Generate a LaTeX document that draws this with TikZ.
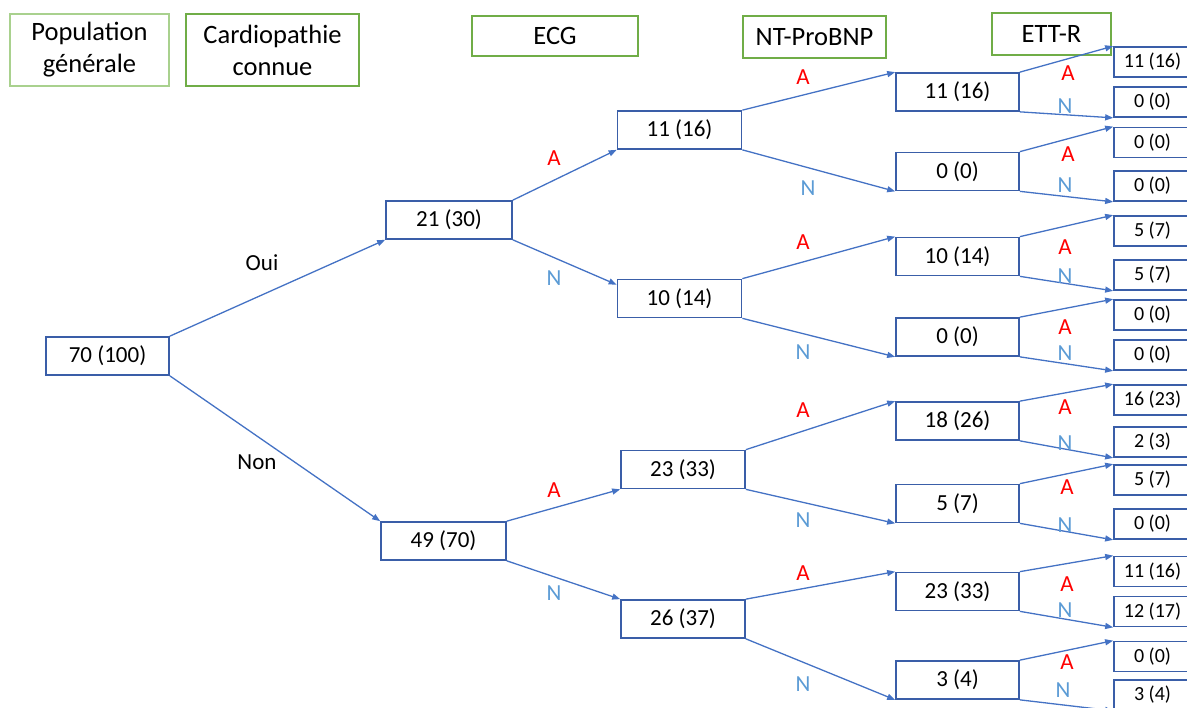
\documentclass[tikz,border=0pt]{standalone}
\usepackage{fontspec}
\setmainfont{Carlito}
\usetikzlibrary{arrows.meta}

\definecolor{boxblue}{RGB}{58,94,168}
\definecolor{arrowblue}{RGB}{68,114,196}
\definecolor{paleGreen}{RGB}{169,209,142}
\definecolor{headGreen}{RGB}{112,173,71}
\definecolor{yesRed}{RGB}{255,0,0}
\definecolor{noBlue}{RGB}{91,155,213}

\begin{document}
\begin{tikzpicture}[
    x=1pt, y=-1pt,
    header/.style={
        draw=headGreen,
        line width=1.2pt,
        inner sep=0pt,
        align=center,
        font=\fontsize{26.5}{32}\selectfont
    },
    box/.style={
        draw=boxblue,
        line width=1.7pt,
        inner sep=0pt,
        minimum width=124pt,
        minimum height=38pt,
        font=\fontsize{23}{28}\selectfont
    },
    leaf/.style={
        draw=boxblue,
        line width=1.7pt,
        inner sep=0pt,
        minimum width=77pt,
        minimum height=30pt,
        font=\fontsize{20}{24}\selectfont
    },
    branch/.style={draw=arrowblue, line width=1.3pt, -{Triangle[length=8pt,width=6pt]}},
    answer/.style={font=\fontsize{23}{28}\selectfont},
    yes/.style={answer, text=yesRed},
    no/.style={answer, text=noBlue}
]

\useasboundingbox (0,0) rectangle (1187,708);
\clip (0,0) rectangle (1187,708);

% Column headers
\node[header, draw=paleGreen, minimum width=159pt, minimum height=72pt] (hpop) at (89.5,50) {Population\\générale};
\node[header, minimum width=173pt, minimum height=72pt] (hcard) at (272.5,50) {Cardiopathie\\connue};
\node[header, minimum width=166pt, minimum height=40pt] (hecg) at (555,36) {ECG};
\node[header, minimum width=143pt, minimum height=42pt] (hbnp) at (814.5,37) {NT-ProBNP};
\node[header, minimum width=119pt, minimum height=42pt] (hett) at (1051.5,34) {ETT-R};

% Root and cardiopathie
\node[box, minimum width=123pt] (root) at (107.5,356) {70 (100)};
\node[box, minimum width=126pt] (oui) at (449,220) {21 (30)};
\node[box, minimum width=125pt] (non) at (443.5,541) {49 (70)};

% ECG level
\node[box] (e1) at (679.5,130) {11 (16)};
\node[box] (e2) at (679.5,298.5) {10 (14)};
\node[box] (e3) at (683,469.5) {23 (33)};
\node[box] (e4) at (683,619) {26 (37)};

% NT-ProBNP level
\node[box, minimum width=123pt] (b1) at (957.5,92) {11 (16)};
\node[box, minimum width=123pt] (b2) at (957.5,171.5) {0 (0)};
\node[box, minimum width=123pt] (b3) at (957.5,256.5) {10 (14)};
\node[box, minimum width=123pt] (b4) at (957.5,337) {0 (0)};
\node[box, minimum width=123pt] (b5) at (957.5,421) {18 (26)};
\node[box, minimum width=123pt] (b6) at (957.5,503.5) {5 (7)};
\node[box, minimum width=123pt] (b7) at (957.5,591.5) {23 (33)};
\node[box, minimum width=123pt] (b8) at (957.5,680) {3 (4)};

% ETT-R level
\node[leaf] (t1) at (1152.5,62) {11 (16)};
\node[leaf] (t2) at (1152.5,102) {0 (0)};
\node[leaf] (t3) at (1152.5,142.5) {0 (0)};
\node[leaf] (t4) at (1152.5,186) {0 (0)};
\node[leaf] (t5) at (1152.5,231) {5 (7)};
\node[leaf] (t6) at (1152.5,275) {5 (7)};
\node[leaf] (t7) at (1152.5,315) {0 (0)};
\node[leaf] (t8) at (1152.5,355) {0 (0)};
\node[leaf] (t9) at (1152.5,400) {16 (23)};
\node[leaf] (t10) at (1152.5,442) {2 (3)};
\node[leaf] (t11) at (1152.5,480) {5 (7)};
\node[leaf] (t12) at (1152.5,524) {0 (0)};
\node[leaf] (t13) at (1152.5,571.5) {11 (16)};
\node[leaf] (t14) at (1152.5,611.5) {12 (17)};
\node[leaf] (t15) at (1152.5,656.5) {0 (0)};
\node[leaf] (t16) at (1152.5,695) {3 (4)};

% Branches
\draw[branch] (root.north east) -- (oui.south west);
\draw[branch] (root.south east) -- (non.north west);

\draw[branch] (oui.north east) -- (e1.south west);
\draw[branch] (oui.south east) -- ([yshift=-6pt]e2.north west);
\draw[branch] (non.north east) -- (e3.south west);
\draw[branch] (non.south east) -- (e4.north west);

\draw[branch] (e1.north east) -- (b1.north west);
\draw[branch] (e1.south east) -- (b2.south west);
\draw[branch] (e2.north east) -- (b3.north west);
\draw[branch] (e2.south east) -- (b4.south west);
\draw[branch] (e3.north east) -- (b5.north west);
\draw[branch] (e3.south east) -- (b6.south west);
\draw[branch] (e4.north east) -- (b7.north west);
\draw[branch] (e4.south east) -- (b8.south west);

\draw[branch] (b1.north east) -- (t1.north west);
\draw[branch] (b1.south east) -- (t2.south west);
\draw[branch] (b2.north east) -- (t3.north west);
\draw[branch] (b2.south east) -- (t4.south west);
\draw[branch] (b3.north east) -- (t5.north west);
\draw[branch] (b3.south east) -- (t6.south west);
\draw[branch] (b4.north east) -- (t7.north west);
\draw[branch] (b4.south east) -- (t8.south west);
\draw[branch] (b5.north east) -- (t9.north west);
\draw[branch] (b5.south east) -- (t10.south west);
\draw[branch] (b6.north east) -- (t11.north west);
\draw[branch] (b6.south east) -- (t12.south west);
\draw[branch] (b7.north east) -- (t13.north west);
\draw[branch] (b7.south east) -- (t14.south west);
\draw[branch] (b8.north east) -- (t15.north west);
\draw[branch] (b8.south east) -- (t16.south west);

% Labels
\node[answer] (lOui) at (262,263) {Oui};
\node[answer] (lNon) at (257,462) {Non};

\node[yes] (a1) at (554,158) {A};
\node[no] (n1) at (554,278) {N};
\node[yes] (a2) at (554,490) {A};
\node[no] (n2) at (554,593) {N};

\node[yes] (a3) at (803,77) {A};
\node[no] (n3) at (808,188) {N};
\node[yes] (a4) at (803,242) {A};
\node[no] (n4) at (803,352) {N};
\node[yes] (a5) at (803,410) {A};
\node[no] (n5) at (803,520) {N};
\node[yes] (a6) at (803,573) {A};
\node[no] (n6) at (803,684) {N};

\node[yes] (a7) at (1068,73) {A};
\node[no] (n7) at (1065,106) {N};
\node[yes] (a8) at (1068,154) {A};
\node[no] (n8) at (1065,185) {N};
\node[yes] (a9) at (1065,247) {A};
\node[no] (n9) at (1065,276) {N};
\node[yes] (a10) at (1065,327) {A};
\node[no] (n10) at (1065,353) {N};
\node[yes] (a11) at (1065,407) {A};
\node[no] (n11) at (1065,443) {N};
\node[yes] (a12) at (1067,487) {A};
\node[no] (n12) at (1065,525) {N};
\node[yes] (a13) at (1067,584) {A};
\node[no] (n13) at (1065,610) {N};
\node[yes] (a14) at (1067,662) {A};
\node[no] (n14) at (1063,690) {N};

\end{tikzpicture}
\end{document}
